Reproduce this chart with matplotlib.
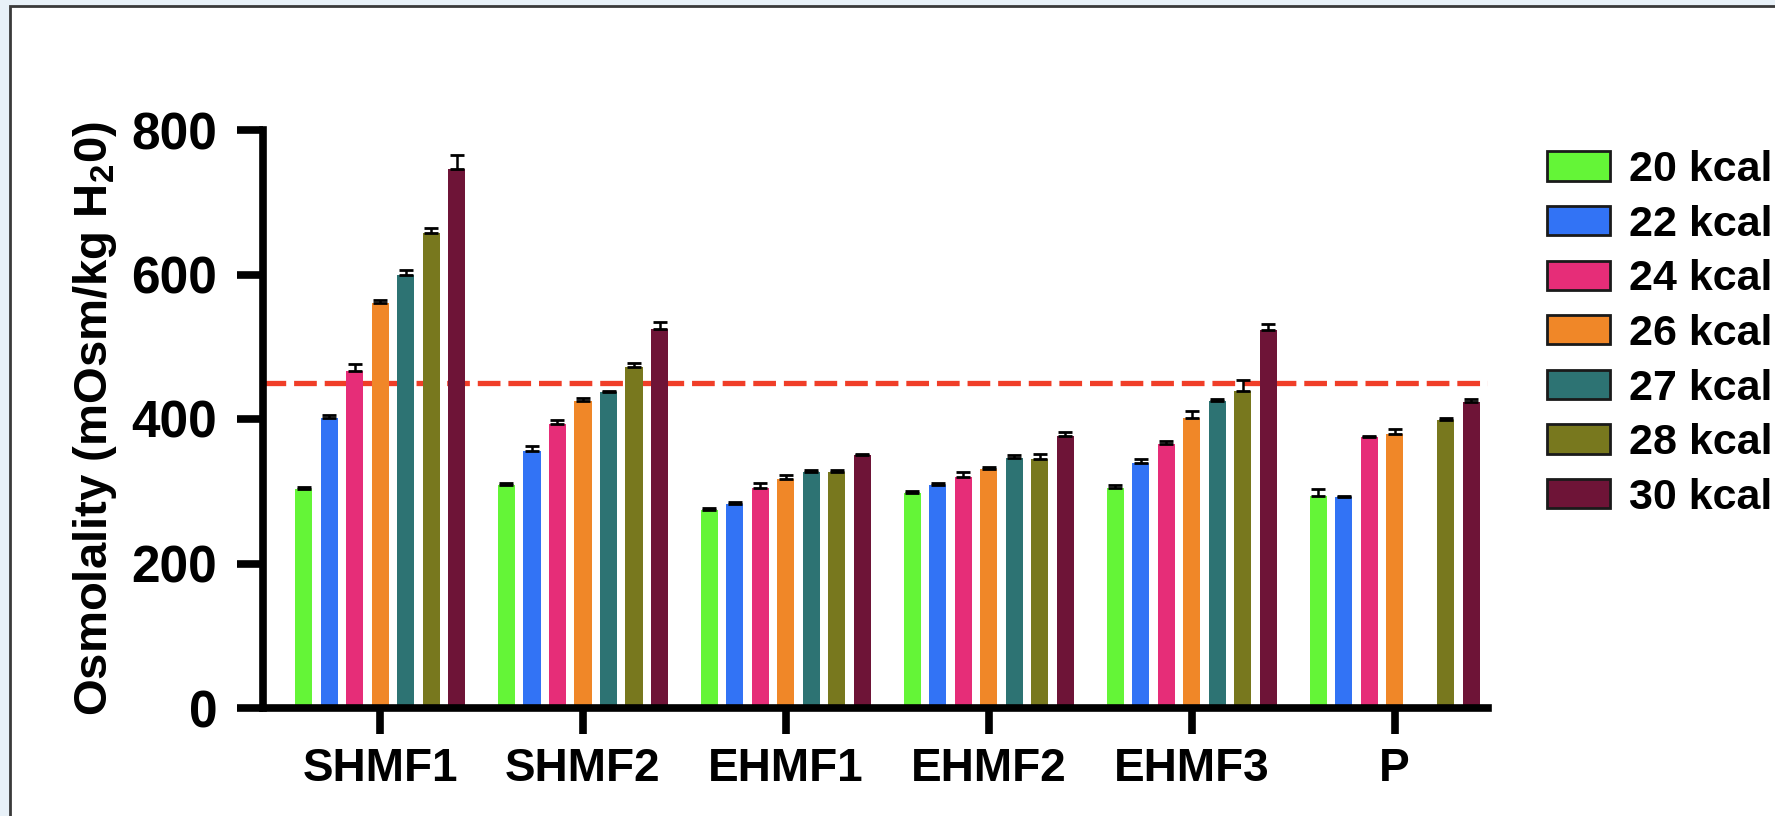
import numpy as np
import matplotlib
matplotlib.use("Agg")
import matplotlib.pyplot as plt
from matplotlib.patches import Patch, Rectangle

# osmolality of each fortifier at the tested caloric densities (mean, SD)
groups = ['SHMF1', 'SHMF2', 'EHMF1', 'EHMF2', 'EHMF3', 'P']
series = ['20 kcal', '22 kcal', '24 kcal', '26 kcal', '27 kcal', '28 kcal', '30 kcal']
colors = ['#64f537', '#3273f5', '#e62d78', '#f08728', '#2d7373', '#78781e', '#6e1437']

kcal_20 = [303, 308, 274, 298, 304, 293]
kcal_22 = [401, 356, 282, 309, 339, 292]
kcal_24 = [467, 393, 305, 320, 365, 375]
kcal_26 = [561, 425, 317, 331, 401, 379]
kcal_27 = [600, 437, 327, 346, 425, np.nan]
kcal_28 = [657, 472, 326, 344, 439, 399]
kcal_30 = [746, 524, 350, 376, 523, 423]

sd_20 = [3, 4, 3, 2, 5, 10]
sd_22 = [5, 7, 3, 2, 5, 2]
sd_24 = [9, 5, 6, 6, 4, 2]
sd_26 = [4, 4, 5, 3, 10, 7]
sd_27 = [6, 2, 3, 4, 2, np.nan]
sd_28 = [8, 6, 4, 7, 15, 2]
sd_30 = [20, 10, 2, 6, 9, 4]

limit = 450  # recommended maximum osmolality

means = [kcal_20, kcal_22, kcal_24, kcal_26, kcal_27, kcal_28, kcal_30]
sds = [sd_20, sd_22, sd_24, sd_26, sd_27, sd_28, sd_30]

plt.rcParams['font.family'] = ['Liberation Sans', 'DejaVu Sans']
plt.rcParams['font.weight'] = 'bold'
plt.rcParams['mathtext.fontset'] = 'custom'
plt.rcParams['mathtext.bf'] = 'Liberation Sans:bold'
plt.rcParams['mathtext.rm'] = 'Liberation Sans:bold'
plt.rcParams['mathtext.default'] = 'bf'

fig = plt.figure(figsize=(17.75, 8.16), dpi=100, facecolor='#e8f1f8')
# white panel with a dark border
fig.patches.append(Rectangle((10 / 1775, -0.01), 1.02, 1 - 6 / 816 + 0.01,
                             transform=fig.transFigure, facecolor='white',
                             edgecolor='#3a3a3a', linewidth=2, zorder=-10))

ax = fig.add_axes([263 / 1775, 108 / 816, 1225 / 1775, 578 / 816])
ax.set_facecolor('none')
ax.set_zorder(1)

x = np.arange(len(groups))
pitch = 0.1257
width = 0.084
for i, (name, m, s, c) in enumerate(zip(series, means, sds, colors)):
    pos = x + (i - 3) * pitch
    m = np.array(m, dtype=float)
    s = np.array(s, dtype=float)
    ax.bar(pos, m, width=width, color=c, zorder=2)
    ax.errorbar(pos, m, yerr=[np.zeros_like(s), s], fmt='none', ecolor='black',
                elinewidth=1.8, capsize=5, capthick=2, zorder=3)

ax.axhline(limit, color='#f03e28', linewidth=3.8, dashes=(4.3, 1.5), zorder=1)

ax.set_xlim(-0.577, 5.46)
ax.set_ylim(0, 800)
ax.set_yticks([0, 200, 400, 600, 800])
ax.set_xticks(x)
ax.set_xticklabels(groups)

for side in ['top', 'right']:
    ax.spines[side].set_visible(False)
for side in ['left', 'bottom']:
    ax.spines[side].set_linewidth(5.5)
ax.tick_params(axis='both', length=19, width=5.5, color='black')
ax.tick_params(axis='y', labelsize=37, pad=14)
ax.tick_params(axis='x', labelsize=33, pad=9)

ax.set_ylabel('Osmolality (mOsm/kg H$_2$0)', fontsize=34, fontweight='bold',
              labelpad=9)

handles = [Patch(facecolor=c, edgecolor='#1a1a1a', linewidth=2) for c in colors]
ax.legend(handles, series, loc='upper left', bbox_to_anchor=(1547 / 1775, 1 - 150 / 816),
          bbox_transform=fig.transFigure, frameon=False, fontsize=31,
          handlelength=1.46, handleheight=0.67, handletextpad=0.45,
          labelspacing=0.34, borderaxespad=0, borderpad=0)

fig.savefig('out.png', dpi=100, facecolor=fig.get_facecolor())
